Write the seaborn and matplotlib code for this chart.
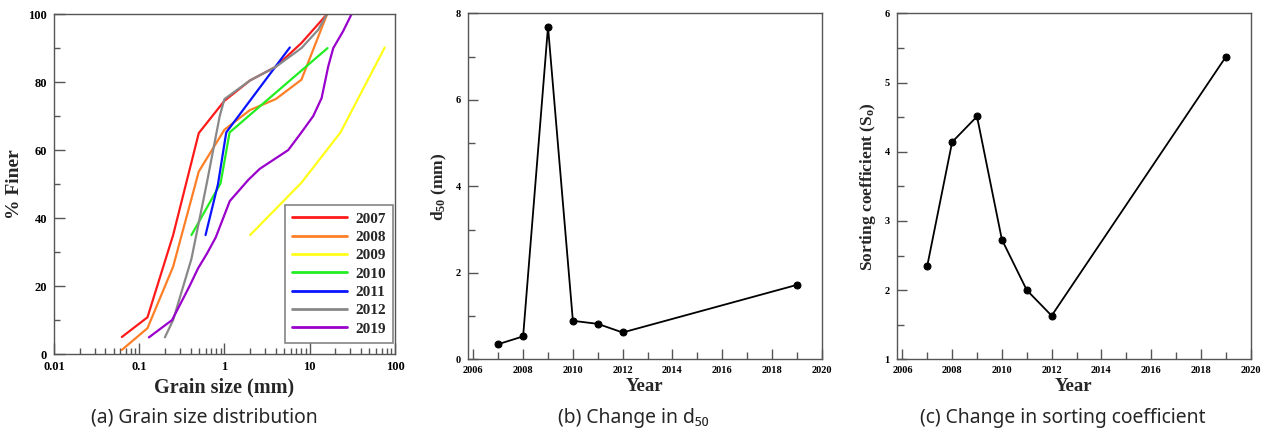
import numpy as np
import pandas as pd
import matplotlib
matplotlib.use("Agg")
import matplotlib.pyplot as plt
import seaborn as sns
from matplotlib.ticker import MultipleLocator, LogLocator, NullFormatter, FixedLocator

# ---------------- data ----------------
years_gsd = ["2007", "2008", "2009", "2010", "2011", "2012", "2019"]
size_2007 = [0.0625, 0.125, 0.25, 0.5, 1.0, 2.0, 4.0, 8.0, 16.0]
finer_2007 = [5.0, 10.8, 35.0, 65.0, 74.5, 80.5, 84.5, 91.5, 100.0]
size_2008 = [0.0625, 0.125, 0.25, 0.5, 1.0, 2.0, 4.0, 8.0, 16.0]
finer_2008 = [1.2, 7.6, 25.7, 53.7, 66.0, 71.8, 75.0, 80.7, 100.0]
size_2009 = [2.0, 8.0, 23.0, 76.0]
finer_2009 = [35.0, 50.4, 65.2, 90.2]
size_2010 = [0.41, 0.9, 1.15, 16.2]
finer_2010 = [35.0, 50.2, 65.2, 90.0]
size_2011 = [0.6, 0.84, 1.05, 5.85]
finer_2011 = [35.0, 50.0, 65.2, 90.2]
size_2012 = [0.2, 0.25, 0.41, 0.62, 0.88, 1.0, 2.0, 4.0, 8.0, 12.6, 16.0]
finer_2012 = [4.9, 10.0, 28.0, 50.2, 70.0, 75.0, 80.5, 84.5, 90.0, 95.4, 100.0]
size_2019 = [0.13, 0.243, 0.39, 0.49, 0.625, 0.79, 1.155, 1.9, 2.6, 5.6, 8.0, 11.0, 13.8, 16.5, 18.9, 24.7, 31.0]
finer_2019 = [4.9, 10.0, 20.0, 25.2, 29.6, 34.3, 45.0, 51.2, 54.5, 60.0, 65.2, 70.0, 75.3, 84.6, 90.0, 95.0, 100.0]

years = [2007, 2008, 2009, 2010, 2011, 2012, 2019]
d50 = [0.35, 0.53, 7.69, 0.89, 0.82, 0.62, 1.72]
sorting = [2.35, 4.14, 4.51, 2.73, 2.0, 1.63, 5.37]

colors_gsd = ["#ff1a1a", "#ff7f27", "#ffff1a", "#22ee22", "#0a14ff", "#888888", "#9a00cc"]

sizes = [size_2007, size_2008, size_2009, size_2010, size_2011, size_2012, size_2019]
finers = [finer_2007, finer_2008, finer_2009, finer_2010, finer_2011, finer_2012, finer_2019]
rows = []
for yr, s, f in zip(years_gsd, sizes, finers):
    for i, (a, b) in enumerate(zip(s, f)):
        rows.append({"year": yr, "size": a, "finer": b, "order": i})
gsd = pd.DataFrame(rows)
ts = pd.DataFrame({"year": years, "d50": d50, "sorting": sorting})

# ---------------- style ----------------
sns.set_style("ticks")
plt.rcParams["font.family"] = ["Liberation Serif", "DejaVu Serif"]
plt.rcParams["font.weight"] = "bold"
plt.rcParams["mathtext.fontset"] = "custom"
plt.rcParams["mathtext.rm"] = "Liberation Serif:bold"
plt.rcParams["mathtext.it"] = "Liberation Serif:bold"
plt.rcParams["mathtext.bf"] = "Liberation Serif:bold"

SPINE = "#555555"
fig = plt.figure(figsize=(12.67, 4.33), dpi=100)
axA = fig.add_axes([0.0426, 0.1824, 0.2691, 0.785])
axB = fig.add_axes([0.3691, 0.1702, 0.2794, 0.799])
axC = fig.add_axes([0.7077, 0.1702, 0.2794, 0.799])

def style_axis(ax, fs, pad):
    for sp in ax.spines.values():
        sp.set_color(SPINE)
        sp.set_linewidth(1.0)
        sp.set_visible(True)
    ax.tick_params(which="both", direction="in", colors=SPINE, labelcolor="black",
                   top=False, right=False, labelsize=fs, pad=pad)
    for lab in ax.get_xticklabels() + ax.get_yticklabels():
        lab.set_fontweight("bold")

# ---------------- panel a ----------------
sns.lineplot(data=gsd, x="size", y="finer", hue="year", palette=colors_gsd,
             sort=False, estimator=None, units="year", lw=1.6, ax=axA)
axA.set_xscale("log")
axA.set_xlim(0.01, 100)
axA.set_ylim(0, 100)
axA.xaxis.set_major_locator(FixedLocator([0.01, 0.1, 1, 10, 100]))
axA.set_xticklabels(["0.01", "0.1", "1", "10", "100"])
axA.xaxis.set_minor_locator(LogLocator(base=10, subs=np.arange(2, 10)))
axA.xaxis.set_minor_formatter(NullFormatter())
axA.yaxis.set_major_locator(MultipleLocator(20))
axA.yaxis.set_minor_locator(MultipleLocator(10))
style_axis(axA, 9, 5)
axA.tick_params(which="major", length=8, width=1)
axA.tick_params(which="minor", length=4.5, width=1)
axA.set_xlabel("Grain size (mm)", fontsize=14.5, fontweight="bold", labelpad=3)
axA.set_ylabel("% Finer", fontsize=14, fontweight="bold", labelpad=4)
leg = axA.legend(loc="lower right", bbox_to_anchor=(0.995, 0.032), frameon=True, fancybox=False,
                 handlelength=3.6, fontsize=11, labelspacing=0.3, borderpad=0.5,
                 handletextpad=0.5, borderaxespad=0)
leg.get_frame().set_edgecolor("#666666")
leg.get_frame().set_linewidth(1.2)
for t in leg.get_texts():
    t.set_fontweight("bold")
for l in leg.get_lines():
    l.set_linewidth(2.0)

# ---------------- panel b ----------------
sns.lineplot(data=ts, x="year", y="d50", color="black", marker="o", markersize=5,
             markeredgecolor="black", lw=1.3, ax=axB)
axB.set_xlim(2005.77, 2020)
axB.set_ylim(0, 8)
axB.xaxis.set_major_locator(MultipleLocator(2))
axB.xaxis.set_minor_locator(MultipleLocator(1))
axB.yaxis.set_major_locator(MultipleLocator(2))
axB.yaxis.set_minor_locator(MultipleLocator(1))
style_axis(axB, 7.5, 5)
axB.tick_params(which="major", length=7, width=1)
axB.tick_params(which="minor", length=5, width=1)
axB.set_xlabel("Year", fontsize=13.5, fontweight="bold", labelpad=2)
axB.set_ylabel(r"d$_{50}$ (mm)", fontsize=12.5, fontweight="bold", labelpad=5)

# ---------------- panel c ----------------
sns.lineplot(data=ts, x="year", y="sorting", color="black", marker="o", markersize=5,
             markeredgecolor="black", lw=1.3, ax=axC)
axC.set_xlim(2005.77, 2020)
axC.set_ylim(1, 6)
axC.xaxis.set_major_locator(MultipleLocator(2))
axC.xaxis.set_minor_locator(MultipleLocator(1))
axC.yaxis.set_major_locator(MultipleLocator(1))
axC.yaxis.set_minor_locator(MultipleLocator(0.5))
style_axis(axC, 7.5, 5)
axC.tick_params(which="major", length=7, width=1)
axC.tick_params(which="minor", length=5, width=1)
axC.set_xlabel("Year", fontsize=13.5, fontweight="bold", labelpad=2)
axC.set_ylabel(r"Sorting coefficient (S$_{o}$)", fontsize=12.5, fontweight="bold", labelpad=5)

# ---------------- captions ----------------
cap_font = ["Noto Sans", "DejaVu Sans"]
fig.text(204 / 1267, 1 - 418 / 433, "(a) Grain size distribution", ha="center", va="center",
         fontsize=13.9, family=cap_font, fontweight="normal")
fig.text(633 / 1267, 1 - 418 / 433, "(b) Change in d\u2085\u2080", ha="center", va="center",
         fontsize=13.9, family=cap_font, fontweight="normal")
fig.text(1063 / 1267, 1 - 418 / 433, "(c) Change in sorting coefficient", ha="center", va="center",
         fontsize=13.9, family=cap_font, fontweight="normal")

fig.savefig("out.png", dpi=100)
